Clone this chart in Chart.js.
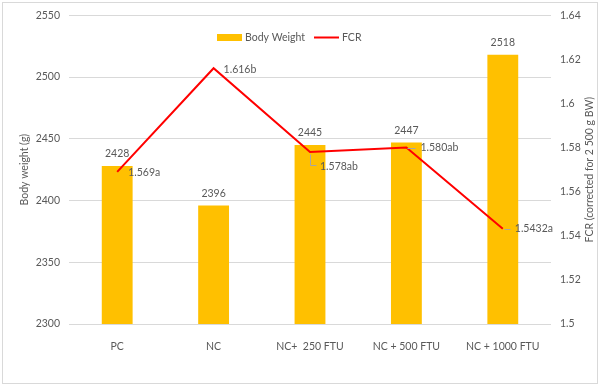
<!DOCTYPE html>
<html>
<head>
<meta charset="utf-8">
<script src="https://cdn.jsdelivr.net/npm/chart.js@4"></script>
<style>
  html, body { margin: 0; background: #fff; }
  #wrap { width: 600px; height: 386px; }
</style>
</head>
<body>
<div id="wrap"><canvas id="chart"></canvas></div>
<script>
// data
const groups = ["PC", "NC", "NC+  250 FTU", "NC + 500 FTU", "NC + 1000 FTU"];
const bodyWeight = [2428, 2396, 2445, 2447, 2518];
const fcr = [1.569, 1.616, 1.578, 1.580, 1.5432];
const fcrLabels = ["1.569a", "1.616b", "1.578ab", "1.580ab", "1.5432a"];
const fcrAxisTitle = "FCR (corrected for 2 500 g BW)";

const GREY = "#595959";
const FONT = "Lato, 'Open Sans', sans-serif";
const SIZE = 10.5;

// where the FCR label sits relative to its point, plus the little grey leader (Excel style)
const fcrLabelPos = [
  { dx: 11, dy: 1 },
  { dx: 10, dy: 1 },
  { dx: 10, dy: 15, leader: [[0, 2], [0, 13], [6, 13]] },
  { dx: 14, dy: 0, leader: [[1, 0], [9, 0]] },
  { dx: 12, dy: 0, leader: [[1, 0], [7, 0]] }
];

const plain = v => String(Number(v.toFixed(2)));

const extras = {
  id: "extras",
  afterDatasetsDraw(chart) {
    const ctx = chart.ctx;
    ctx.save();
    ctx.font = SIZE + "px " + FONT;
    ctx.fillStyle = GREY;
    ctx.textBaseline = "middle";

    // bar value labels
    ctx.textAlign = "center";
    chart.getDatasetMeta(0).data.forEach((bar, i) => {
      ctx.fillText(String(bodyWeight[i]), bar.x, bar.y - 12);
    });

    // FCR labels
    ctx.textAlign = "left";
    chart.getDatasetMeta(1).data.forEach((pt, i) => {
      const p = fcrLabelPos[i];
      if (p.leader) {
        ctx.strokeStyle = "#a6a6a6";
        ctx.lineWidth = 1;
        ctx.beginPath();
        p.leader.forEach((l, k) => {
          const x = Math.round(pt.x + l[0]) + 0.5, y = Math.round(pt.y + l[1]) + 0.5;
          k ? ctx.lineTo(x, y) : ctx.moveTo(x, y);
        });
        ctx.stroke();
      }
      ctx.fillText(fcrLabels[i], pt.x + p.dx, pt.y + p.dy);
    });

    // legend
    ctx.fillStyle = "#FFC000";
    ctx.fillRect(217, 34, 25, 7);
    ctx.fillStyle = GREY;
    ctx.fillText(chart.data.datasets[0].label, 245, 37.5);
    ctx.strokeStyle = "#FF0000";
    ctx.lineWidth = 2;
    ctx.beginPath();
    ctx.moveTo(314, 37.5);
    ctx.lineTo(339, 37.5);
    ctx.stroke();
    ctx.fillText(chart.data.datasets[1].label, 342, 37.5);

    // right axis title, reads bottom to top like the left one
    const a = chart.chartArea;
    ctx.translate(590, (a.top + a.bottom) / 2);
    ctx.rotate(-Math.PI / 2);
    ctx.textAlign = "center";
    ctx.fillText(fcrAxisTitle, 0, 0);
    ctx.restore();
  },
  afterDraw(chart) {
    const ctx = chart.ctx;
    ctx.save();
    ctx.strokeStyle = "#d9d9d9";
    ctx.lineWidth = 1;
    ctx.strokeRect(2.5, 2.5, 595, 381);
    ctx.restore();
  }
};

new Chart(document.getElementById("chart"), {
  data: {
    labels: groups,
    datasets: [
      {
        type: "bar",
        label: "Body Weight",
        data: bodyWeight,
        backgroundColor: "#FFC000",
        barPercentage: 0.32,
        categoryPercentage: 1,
        yAxisID: "y",
        order: 1
      },
      {
        type: "line",
        label: "FCR",
        data: fcr,
        borderColor: "#FF0000",
        borderWidth: 2,
        pointRadius: 0,
        tension: 0,
        yAxisID: "y1",
        order: 0
      }
    ]
  },
  options: {
    responsive: true,
    maintainAspectRatio: false,
    animation: false,
    layout: { padding: { top: 14, left: 0, right: 0, bottom: 0 } },
    plugins: { legend: { display: false }, tooltip: { enabled: false } },
    scales: {
      x: {
        grid: { display: false },
        border: { display: false },
        ticks: { color: GREY, font: { family: FONT, size: SIZE }, padding: 8, maxRotation: 0, autoSkip: false },
        afterFit: s => { s.height = 62; }
      },
      y: {
        position: "left",
        min: 2300,
        max: 2550,
        ticks: { stepSize: 50, color: GREY, font: { family: FONT, size: SIZE }, padding: 9, callback: plain },
        grid: { color: "#d9d9d9", drawTicks: false },
        border: { display: false },
        title: { display: true, text: "Body weight (g)", color: GREY, font: { family: FONT, size: SIZE }, padding: { top: 18.5, bottom: 0 } },
        afterFit: s => { s.width = 69; }
      },
      y1: {
        position: "right",
        min: 1.5,
        max: 1.64,
        ticks: { stepSize: 0.02, color: GREY, font: { family: FONT, size: SIZE }, padding: 9, callback: plain },
        grid: { display: false, drawTicks: false },
        border: { display: false },
        afterFit: s => { s.width = 49; }
      }
    }
  },
  plugins: [extras]
});
</script>
</body>
</html>
